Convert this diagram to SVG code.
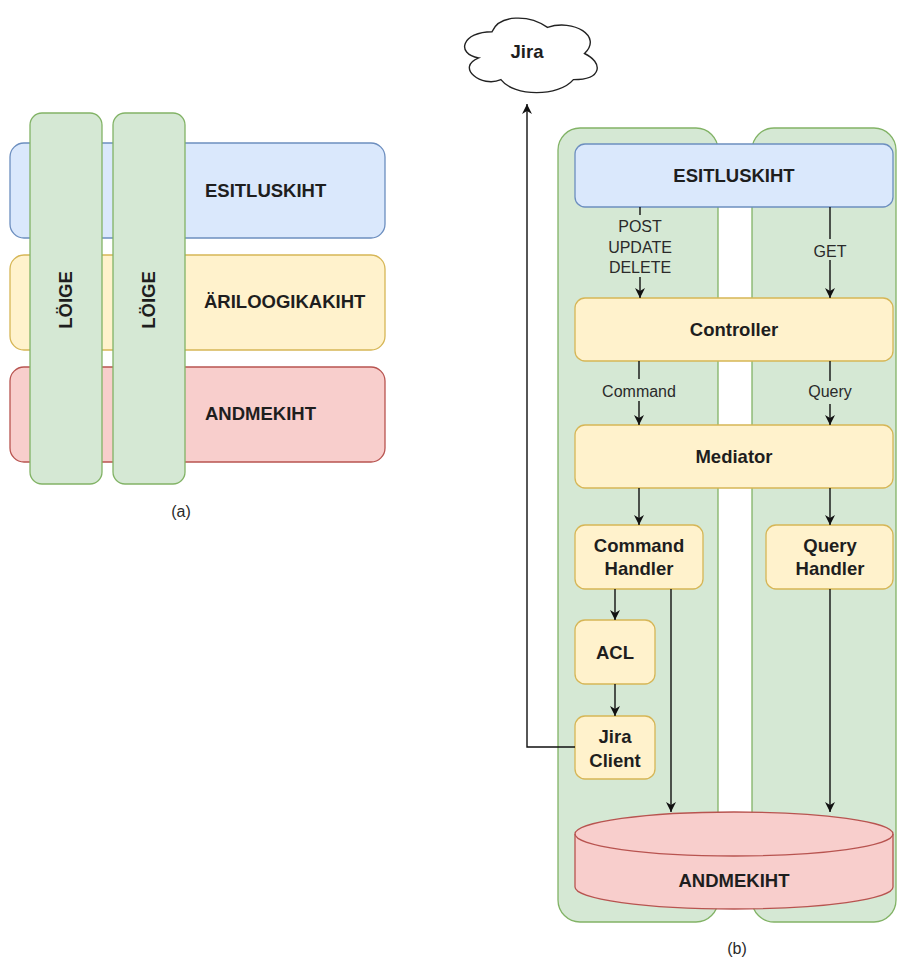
<svg xmlns="http://www.w3.org/2000/svg" width="897" height="960" viewBox="0 0 897 960">
<defs>
<marker id="arr" markerUnits="userSpaceOnUse" markerWidth="11" markerHeight="11" refX="10" refY="5" orient="auto">
<path d="M0,0 L10,5 L0,10 L3,5 Z" fill="#111"/>
</marker>
<style>
.blue{fill:#dae8fc;stroke:#6c8ebf;stroke-width:1.3}
.yellow{fill:#fff2cc;stroke:#d6b656;stroke-width:1.3}
.red{fill:#f8cecc;stroke:#b85450;stroke-width:1.3}
.green{fill:#d5e8d4;stroke:#82b366;stroke-width:1.3}
.t{font-family:"Liberation Sans",Arial,sans-serif;font-size:18.5px;font-weight:bold;fill:#1e1e1e}
.c{text-anchor:middle}
.lbl{font-family:"Liberation Sans",Arial,sans-serif;font-size:16px;fill:#2a2a2a;text-anchor:middle}
.e{fill:none;stroke:#111;stroke-width:1.4}
.ea{fill:none;stroke:#111;stroke-width:1.4;marker-end:url(#arr)}
</style>
</defs>

<!-- (a) -->
<g id="a-esitluskiht"><rect class="blue" x="10" y="143" width="375" height="95" rx="14"/><text class="t" x="205" y="197">ESITLUSKIHT</text></g>
<g id="a-ariloogikakiht"><rect class="yellow" x="10" y="255" width="375" height="95" rx="14"/><text class="t" x="204" y="308">ÄRILOOGIKAKIHT</text></g>
<g id="a-andmekiht"><rect class="red" x="10" y="367" width="375" height="95" rx="14"/><text class="t" x="205" y="420">ANDMEKIHT</text></g>
<g id="a-loige1"><rect class="green" x="30" y="113" width="72" height="371" rx="12"/><text class="t c" transform="translate(72,300) rotate(-90)" x="0" y="0">LÖIGE</text></g>
<g id="a-loige2"><rect class="green" x="113" y="113" width="72" height="371" rx="12"/><text class="t c" transform="translate(155,300) rotate(-90)" x="0" y="0">LÖIGE</text></g>
<text class="lbl" x="181" y="517">(a)</text>

<!-- (b) -->
<g id="panel-left"><rect class="green" x="558" y="128" width="160" height="794" rx="22"/></g>
<g id="panel-right"><rect class="green" x="752" y="128" width="144" height="794" rx="22"/></g>

<g id="jira"><path d="M492,31.75 C462.4,31.75 455,53.5 478.7,57.85 C455,67.4 481.6,88.3 500.9,79.6 C514.2,97 558.6,97 573.4,79.6 C603,79.6 603,62.2 584.5,53.5 C603,36.1 573.4,18.7 547.5,27.4 C529,14.35 499.4,14.35 492,31.75 Z" fill="#fff" stroke="#222" stroke-width="1.4"/><text class="t c" x="527" y="58">Jira</text></g>

<g id="b-esitluskiht"><rect class="blue" x="575" y="144" width="318" height="63" rx="10"/><text class="t c" x="734" y="182">ESITLUSKIHT</text></g>
<g id="controller"><rect class="yellow" x="575" y="298" width="318" height="63" rx="10"/><text class="t c" x="734" y="336">Controller</text></g>
<g id="mediator"><rect class="yellow" x="575" y="425" width="318" height="63" rx="10"/><text class="t c" x="734" y="463">Mediator</text></g>
<g id="command-handler"><rect class="yellow" x="575" y="525" width="128" height="64" rx="10"/><text class="t c" x="639" y="552">Command</text><text class="t c" x="639" y="575">Handler</text></g>
<g id="query-handler"><rect class="yellow" x="766" y="525" width="127" height="64" rx="10"/><text class="t c" x="830" y="552">Query</text><text class="t c" x="830" y="575">Handler</text></g>
<g id="acl"><rect class="yellow" x="575" y="620" width="80" height="64" rx="10"/><text class="t c" x="615" y="659">ACL</text></g>
<g id="jira-client"><rect class="yellow" x="575" y="716" width="80" height="63" rx="10"/><text class="t c" x="615" y="743">Jira</text><text class="t c" x="615" y="767">Client</text></g>
<g id="b-andmekiht"><path class="red" d="M575,834 A159,22 0 0 1 893,834 L893,887 A159,22 0 0 1 575,887 Z"/><path d="M575,834 A159,22 0 0 0 893,834" fill="none" stroke="#b85450" stroke-width="1.3"/><text class="t c" x="734" y="887">ANDMEKIHT</text></g>

<g id="connectors">
<line class="e" x1="640" y1="207" x2="640" y2="215"/>
<text class="lbl" x="640" y="232">POST</text>
<text class="lbl" x="640" y="253">UPDATE</text>
<text class="lbl" x="640" y="273">DELETE</text>
<line class="ea" x1="640" y1="277" x2="640" y2="298"/>
<line class="e" x1="830" y1="207" x2="830" y2="239"/>
<text class="lbl" x="830" y="257">GET</text>
<line class="ea" x1="830" y1="260" x2="830" y2="298"/>
<line class="e" x1="639" y1="361" x2="639" y2="379"/>
<text class="lbl" x="639" y="397">Command</text>
<line class="ea" x1="639" y1="401" x2="639" y2="425"/>
<line class="e" x1="830" y1="361" x2="830" y2="381"/>
<text class="lbl" x="830" y="397">Query</text>
<line class="ea" x1="830" y1="404" x2="830" y2="425"/>
<line class="ea" x1="639" y1="488" x2="639" y2="525"/>
<line class="ea" x1="830" y1="488" x2="830" y2="525"/>
<line class="ea" x1="615" y1="589" x2="615" y2="620"/>
<line class="ea" x1="615" y1="684" x2="615" y2="716"/>
<line class="ea" x1="671" y1="589" x2="671" y2="812"/>
<line class="ea" x1="830" y1="589" x2="830" y2="812"/>
<polyline class="ea" points="575,747 527,747 527,104"/>
</g>
<text class="lbl" x="737" y="954">(b)</text>
</svg>
